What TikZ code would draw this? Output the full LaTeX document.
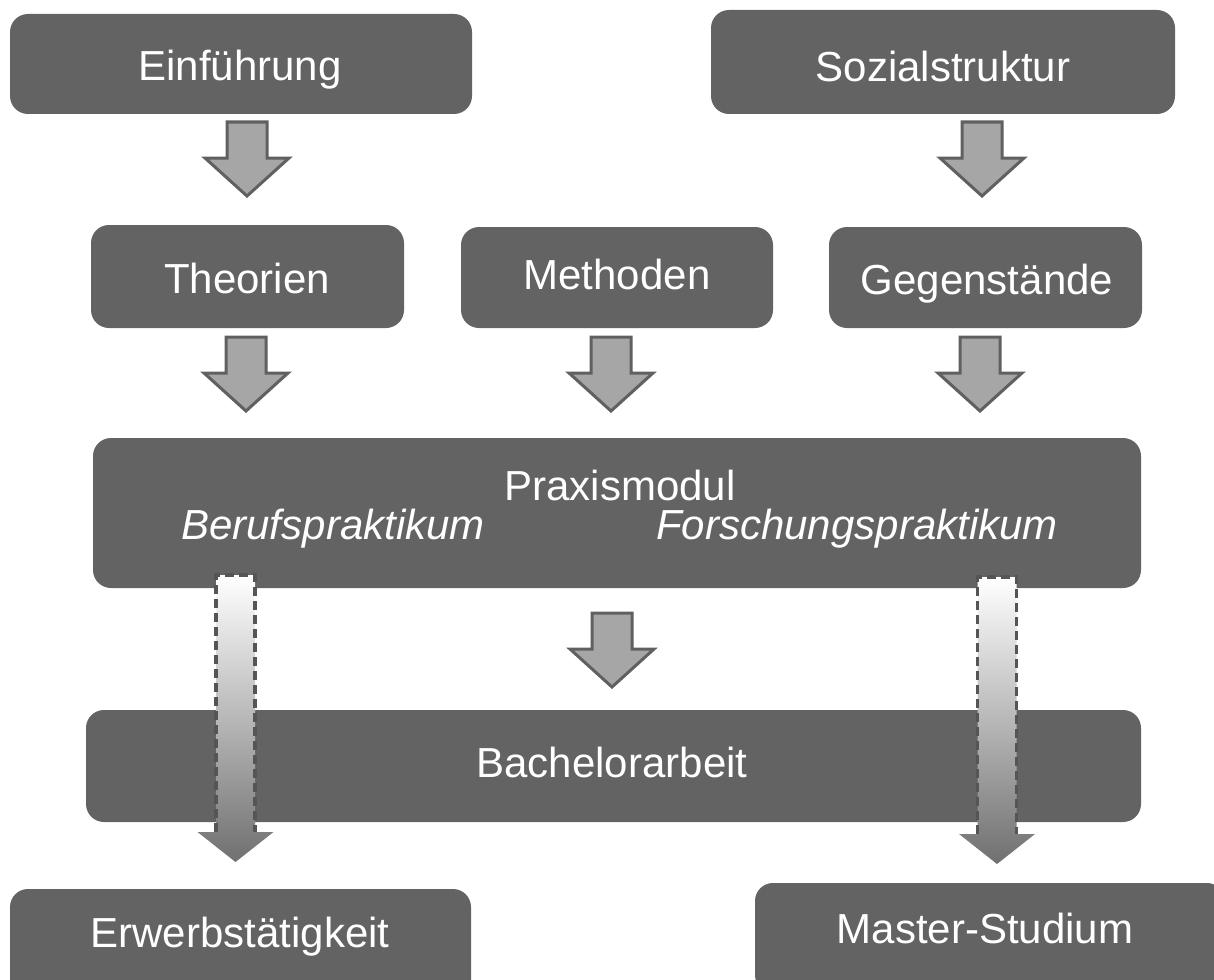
\documentclass[tikz,border=0pt]{standalone}
\usepackage{fontspec}
\setmainfont{Liberation Sans}
\definecolor{boxgray}{HTML}{636363}
\definecolor{arrowfill}{HTML}{A6A6A6}
\definecolor{arrowline}{HTML}{606060}
\definecolor{gradbot}{HTML}{707070}
\definecolor{dashgray}{HTML}{555555}
\tikzset{
  box/.style={fill=boxgray, draw=none, rounded corners=18pt, text=white,
    font=\fontsize{42}{50}\selectfont, inner sep=0pt, outer sep=0pt},
  boxtext/.style={text=white, font=\fontsize{42}{50}\selectfont, inner sep=0pt},
  blockarrow/.pic={
    \draw[line width=3pt, draw=arrowline, fill=arrowfill, line join=miter]
      (-20,0) -- (20,0) -- (20,36) -- (42,36) -- (0,74) -- (-42,36) -- (-20,36) -- cycle;
  },
  gradarrow/.pic={
    \shade[top color=white, bottom color=gradbot]
      (-19.5,0) -- (19.5,0) -- (19.5,257) -- (38,257) -- (0,287) -- (-38,257) -- (-19.5,257) -- cycle;
    \draw[draw=dashgray, line width=3.2pt, dash pattern=on 9pt off 5pt]
      (-19.5,257) -- (-19.5,0) -- (19.5,0) -- (19.5,257);
  },
}
\begin{document}
\begin{tikzpicture}[x=1pt, y=-1pt]
\useasboundingbox (0,0) rectangle (1214,979);
% boxes
\node[box, minimum width=462pt, minimum height=100pt] (einf) at (241,64) {};
\node[boxtext] (einfT) at (240,70) {Einführung};
\node[box, minimum width=464pt, minimum height=104pt] (sozial) at (943,62) {};
\node[boxtext] (sozialT) at (943,66) {Sozialstruktur};
\node[box, minimum width=313pt, minimum height=103pt] (theo) at (247.5,276.5) {};
\node[boxtext] (theoT) at (247,278) {Theorien};
\node[box, minimum width=312pt, minimum height=101pt] (meth) at (617,277.5) {};
\node[boxtext] (methT) at (617,274) {Methoden};
\node[box, minimum width=313pt, minimum height=101pt] (gegen) at (985.5,277.5) {};
\node[boxtext] (gegenT) at (987,284) {Gegenstände};
\node[box, minimum width=1048pt, minimum height=150pt] (praxis) at (617,513) {};
\node[boxtext] (praxisT) at (620,485) {Praxismodul};
\node[boxtext, font=\fontsize{42}{50}\selectfont\itshape] (beruf) at (333,529) {Berufspraktikum};
\node[boxtext, font=\fontsize{42}{50}\selectfont\itshape] (forsch) at (857,529) {Forschungspraktikum};
\node[box, minimum width=1055pt, minimum height=112pt] (bach) at (613.5,766) {};
\node[boxtext] (bachT) at (612,762) {Bachelorarbeit};
\node[box, minimum width=461pt, minimum height=110pt] (erwerb) at (240.5,944) {};
\node[boxtext] (erwerbT) at (240,937) {Erwerbstätigkeit};
\node[box, minimum width=470pt, minimum height=110pt] (master) at (990,938) {};
\node[boxtext] (masterT) at (985,928) {Master-Studium};
% block arrows
\pic at (247,122) {blockarrow};
\pic at (982,122) {blockarrow};
\pic at (246,337) {blockarrow};
\pic at (611,337) {blockarrow};
\pic at (980,337) {blockarrow};
\pic at (612,613) {blockarrow};
% gradient arrows
\pic at (235.5,575) {gradarrow};
\pic at (997,577) {gradarrow};
\end{tikzpicture}
\end{document}
